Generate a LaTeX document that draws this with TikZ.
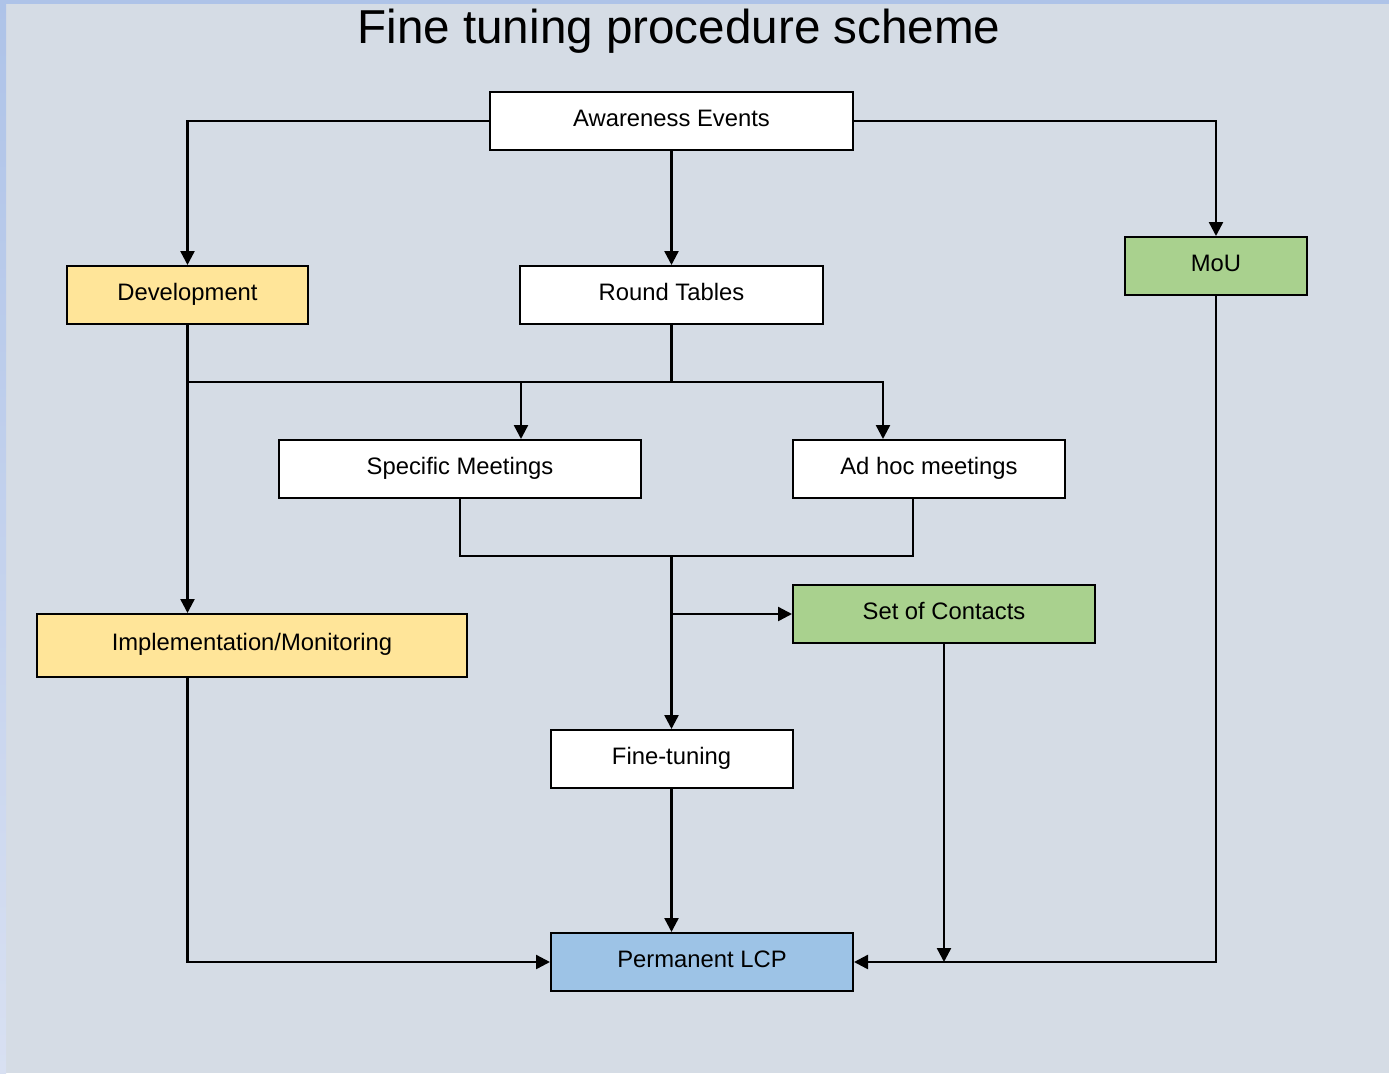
\documentclass[tikz,border=0pt]{standalone}
\usepackage{fontspec}
\setmainfont{Liberation Sans}
\usetikzlibrary{arrows.meta}
\definecolor{bgpanel}{HTML}{D5DCE5}
\definecolor{bgstrip}{HTML}{AEC3E8}
\definecolor{bgstriplow}{HTML}{D8E0F2}
\definecolor{boxyellow}{HTML}{FFE599}
\definecolor{boxgreen}{HTML}{A9D18E}
\definecolor{boxblue}{HTML}{9DC3E6}
\tikzset{
  stage/.style={draw=black, line width=1pt, fill=white, minimum height=29pt, inner sep=0pt,
    text height=9pt, text depth=4pt, font=\fontsize{11.9}{14}\selectfont},
  flow/.style={black, line width=1.2pt},
  flowarr/.style={flow, -{Triangle[length=7pt,width=7pt]}}
}

\begin{document}
\begin{tikzpicture}[line cap=rect,line join=miter,x=0.5pt,y=-0.5pt]
    \useasboundingbox (0,0) rectangle (1389,1073);

    % Background
    \fill[bgpanel] (0,0) rectangle (1389,1073);
    \shade[top color=bgstrip, bottom color=bgstriplow] (0,0) rectangle (6,1073);
    \fill[bgstrip] (0,0) rectangle (1389,4);
    \node (title) at (679,31) {\fontsize{23.8}{28}\selectfont Fine tuning procedure scheme};

    % Boxes
    \draw(671.5,121) node[stage, minimum width=181.5pt] (aware) {Awareness Events};
    \draw(187.5,295) node[stage, fill=boxyellow, minimum width=120.5pt] (devel) {Development};
    \draw(671.5,295) node[stage, minimum width=151.5pt] (round) {Round Tables};
    \draw(1216,266) node[stage, fill=boxgreen, minimum width=91pt] (mou) {MoU};
    \draw(460,469) node[stage, minimum width=181pt] (spec) {Specific Meetings};
    \draw(929,469) node[stage, minimum width=136pt] (adhoc) {Ad hoc meetings};
    \draw(252,645.5) node[stage, fill=boxyellow, minimum width=215pt, minimum height=31.5pt] (impl) {Implementation/Monitoring};
    \draw(944,614) node[stage, fill=boxgreen, minimum width=151pt] (contacts) {Set of Contacts};
    \draw(671.5,759) node[stage, minimum width=121pt] (fine) {Fine-tuning};
    \draw(702,962) node[stage, fill=boxblue, minimum width=151pt] (lcp) {Permanent LCP};

    % Junctions
    \coordinate (rtsplit) at (671.5,382);
    \coordinate (smin) at (521,382);
    \coordinate (ahin) at (883,382);
    \coordinate (ahout) at (913,556);
    \coordinate (merge) at (671.5,556);
    \coordinate (tap) at (671.5,614);

    % Connectors
    \draw[flowarr] (aware.west) -| (devel.north);
    \draw[flowarr] (aware.east) -| (mou.north);
    \draw[flow] (round.south) -- (rtsplit);
    \draw[flow] (devel.south |- rtsplit) -- (ahin);
    \draw[flow] (spec.south) |- (ahout) -- (ahout |- adhoc.south);
    \draw[flowarr] (devel.south |- impl.south) |- (lcp.west);
    \draw[flowarr] (mou.south) |- (lcp.east);
    \foreach \source/\target in {aware.south/round.north, devel.south/devel.south |- impl.north,
        smin/smin |- spec.north, ahin/ahin |- adhoc.north, merge/fine.north, tap/contacts.west,
        fine.south/fine.south |- lcp.north, contacts.south/contacts.south |- lcp.east} {
            \draw[flowarr] (\source) -- (\target);
        }
\end{tikzpicture}
\end{document}
